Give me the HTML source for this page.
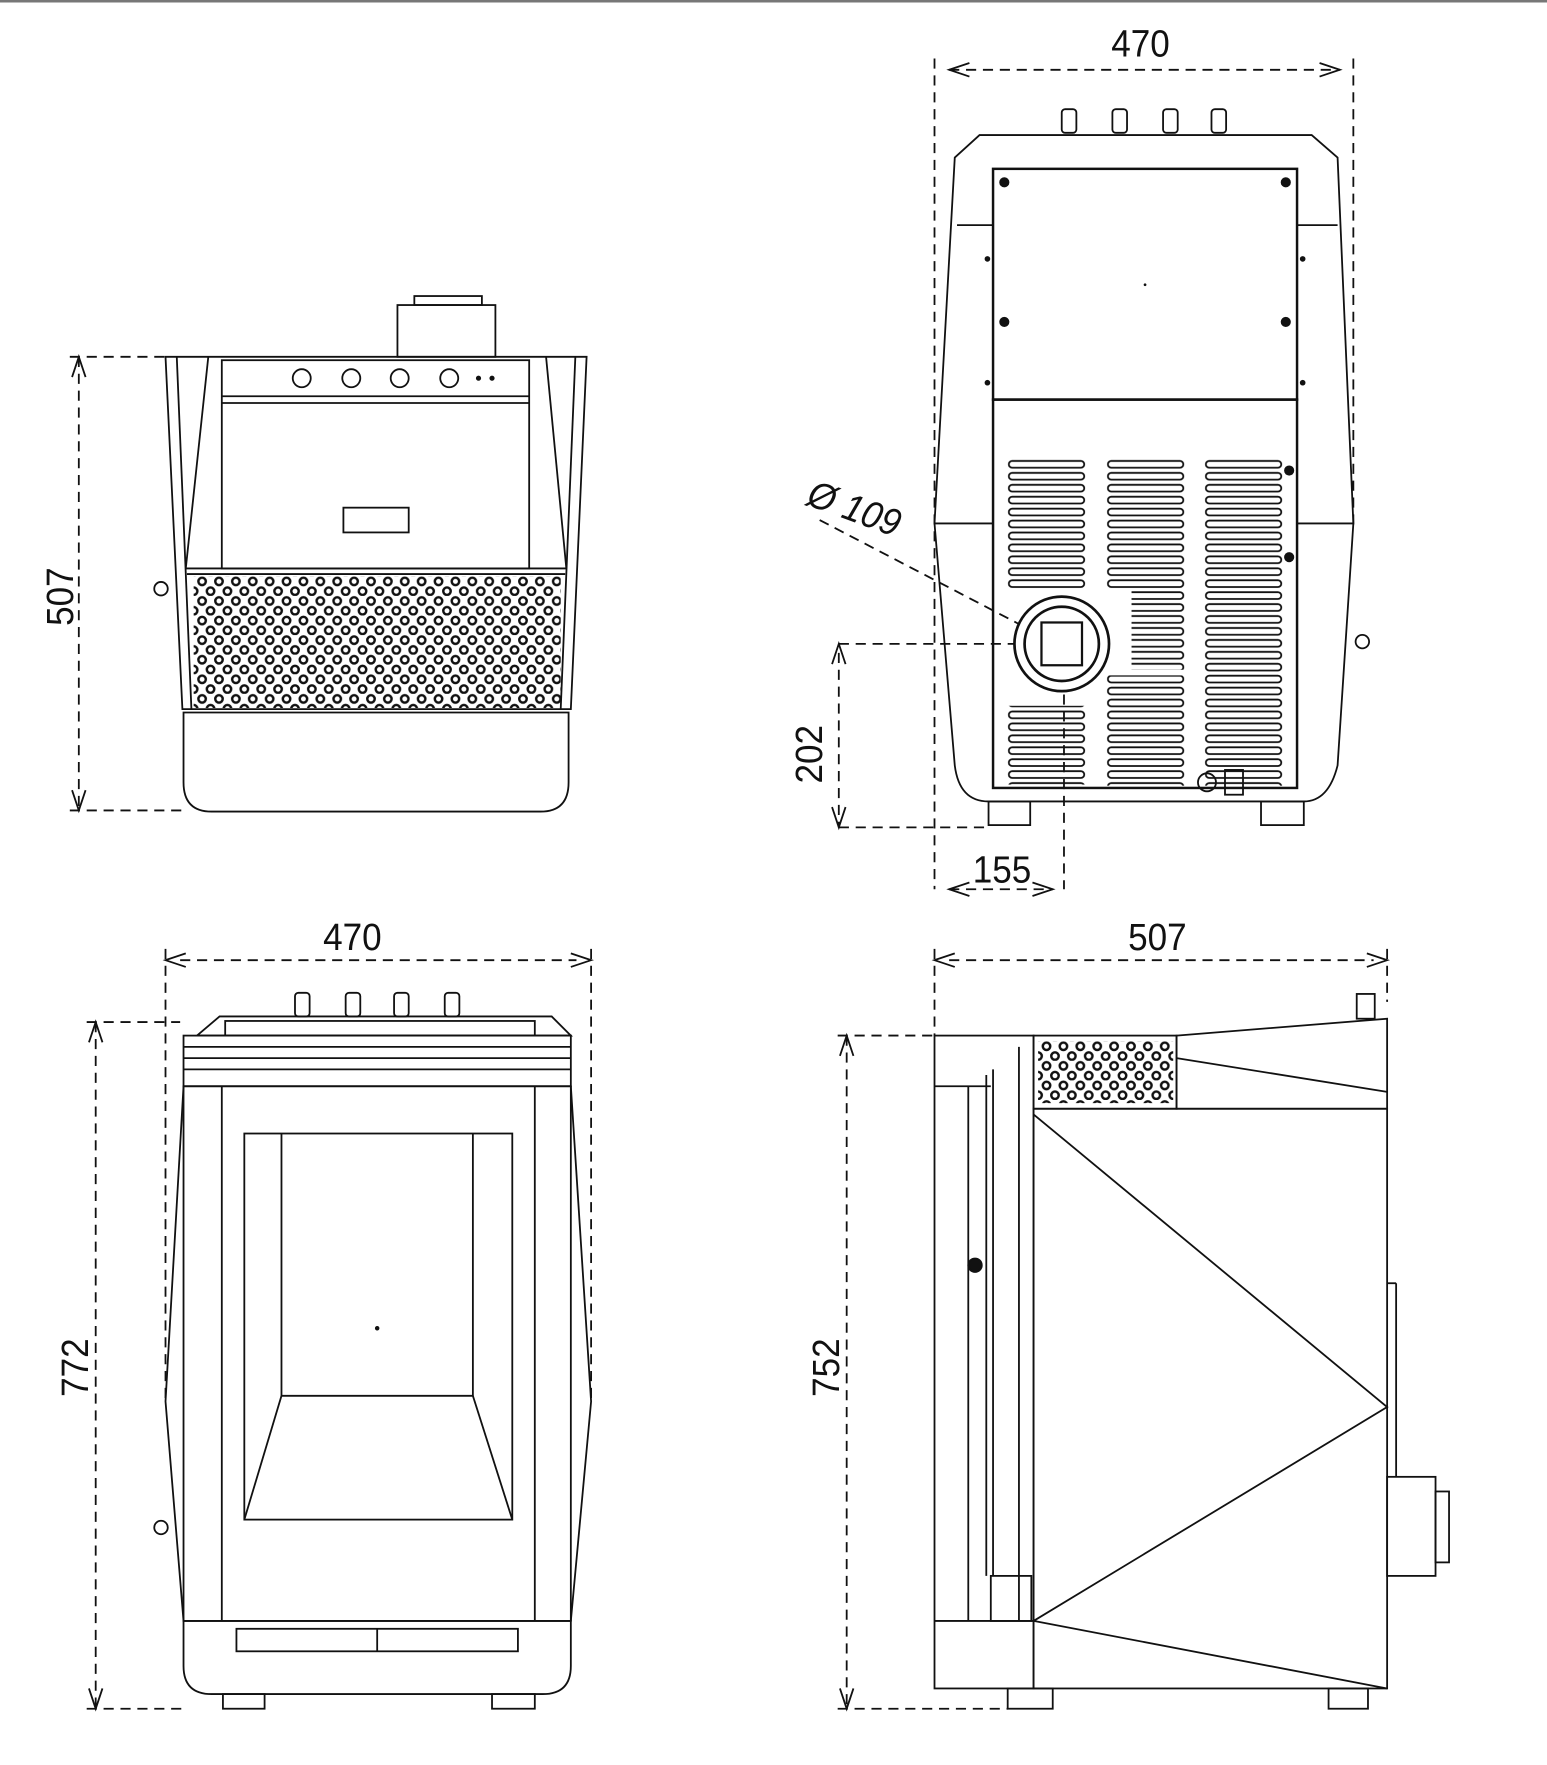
<!DOCTYPE html>
<html><head><meta charset="utf-8"><style>
html,body{margin:0;padding:0;background:#fff;}
svg{display:block}
text{font-family:"Liberation Sans",sans-serif;font-size:34px;fill:#111;}
</style></head><body>
<svg width="1547" height="1765" viewBox="0 0 1374 1568" preserveAspectRatio="none" xmlns="http://www.w3.org/2000/svg">
<defs>
<pattern id="perf" width="15" height="17.4" patternUnits="userSpaceOnUse" x="172" y="512">
<circle cx="7.5" cy="4.5" r="3.3" fill="none" stroke="#111" stroke-width="2.2"/>
<circle cx="0" cy="13.2" r="3.3" fill="none" stroke="#111" stroke-width="2.2"/>
<circle cx="15" cy="13.2" r="3.3" fill="none" stroke="#111" stroke-width="2.2"/>
</pattern>
<pattern id="perfS" width="15" height="17.4" patternUnits="userSpaceOnUse" x="922" y="925">
<circle cx="7.5" cy="4.5" r="3.3" fill="none" stroke="#111" stroke-width="2.2"/>
<circle cx="0" cy="13.2" r="3.3" fill="none" stroke="#111" stroke-width="2.2"/>
<circle cx="15" cy="13.2" r="3.3" fill="none" stroke="#111" stroke-width="2.2"/>
</pattern>
<pattern id="slotA" width="200" height="10.6" patternUnits="userSpaceOnUse" x="895" y="408">
<rect x="1" y="1.5" width="67" height="6" rx="3" fill="none" stroke="#111" stroke-width="1.6"/>
</pattern>
<pattern id="slotB" width="200" height="10.6" patternUnits="userSpaceOnUse" x="983" y="408">
<rect x="1" y="1.5" width="67" height="6" rx="3" fill="none" stroke="#111" stroke-width="1.6"/>
</pattern>
<pattern id="slotC" width="200" height="10.6" patternUnits="userSpaceOnUse" x="1070" y="408">
<rect x="1" y="1.5" width="67" height="6" rx="3" fill="none" stroke="#111" stroke-width="1.6"/>
</pattern>
</defs>
<g fill="none" stroke="#111" stroke-width="1.6">
<line x1="0" y1="1" x2="1374" y2="1" stroke="#777" stroke-width="2.5"/>

<rect x="368" y="263" width="60" height="8"/>
<rect x="353" y="271" width="87" height="46"/>
<polygon points="147,317 521,317 507,630 162,630"/>
<polyline points="157,317 170,630"/>
<polyline points="511,317 498,630"/>
<polyline points="185,317 165,505"/>
<polyline points="485,317 503,505"/>
<rect x="197" y="320" width="273" height="185"/>
<line x1="197" y1="352" x2="470" y2="352"/>
<line x1="197" y1="358" x2="470" y2="358"/>
<line x1="165" y1="505" x2="503" y2="505"/>
<line x1="166" y1="510" x2="502" y2="510"/>
<rect x="305" y="451" width="58" height="22"/>
<circle cx="268" cy="336" r="8"/><circle cx="312" cy="336" r="8"/><circle cx="355" cy="336" r="8"/><circle cx="399" cy="336" r="8"/>
<circle cx="425" cy="336" r="1.5" fill="#111"/><circle cx="437" cy="336" r="1.5" fill="#111"/>
<rect x="172" y="512" width="326" height="117" fill="url(#perf)" stroke="none"/>
<path d="M163,633 H505 V695 Q505,721 480,721 H188 Q163,721 163,695 Z"/>
<circle cx="143" cy="523" r="6"/>
<g stroke-dasharray="9,6"><line x1="70" y1="317" x2="70" y2="720"/><line x1="62" y1="317" x2="147" y2="317"/><line x1="62" y1="720" x2="162" y2="720"/></g>
<polyline points="64,335 70,317 76,335"/><polyline points="64,702 70,720 76,702"/>

<g stroke-dasharray="9,6">
<line x1="830" y1="52" x2="830" y2="790"/><line x1="1202" y1="52" x2="1202" y2="470"/>
<line x1="843" y1="62" x2="1190" y2="62"/>
<line x1="745" y1="572" x2="945" y2="572"/><line x1="745" y1="735" x2="880" y2="735"/>
<line x1="745" y1="580" x2="745" y2="735"/>
<line x1="945" y1="572" x2="945" y2="790"/>
<line x1="843" y1="790" x2="935" y2="790"/>
<line x1="728" y1="462" x2="935" y2="570"/>
</g>
<polyline points="861,56 843,62 861,68"/><polyline points="1172,56 1190,62 1172,68"/>
<polyline points="739,590 745,572 751,590"/><polyline points="739,717 745,735 751,717"/>
<polyline points="861,784 843,790 861,796"/><polyline points="917,784 935,790 917,796"/>
<rect x="943" y="97" width="13" height="21" rx="3"/><rect x="988" y="97" width="13" height="21" rx="3"/><rect x="1033" y="97" width="13" height="21" rx="3"/><rect x="1076" y="97" width="13" height="21" rx="3"/>
<path d="M870,120 H1165 L1188,140 L1202,465 L1188,680 Q1180,712 1158,712 H878 Q852,712 848,680 L830,465 L848,140 Z"/>
<line x1="830" y1="465" x2="882" y2="465"/><line x1="1152" y1="465" x2="1202" y2="465"/>
<line x1="850" y1="200" x2="882" y2="200"/><line x1="1152" y1="200" x2="1188" y2="200"/>
<rect x="882" y="150" width="270" height="205" stroke-width="2.2"/>
<rect x="882" y="355" width="270" height="345" stroke-width="2.2"/>
<g fill="#111" stroke="none">
<circle cx="892" cy="162" r="4.5"/><circle cx="1142" cy="162" r="4.5"/><circle cx="892" cy="286" r="4.5"/><circle cx="1142" cy="286" r="4.5"/>
<circle cx="1145" cy="418" r="4.5"/><circle cx="1145" cy="495" r="4.5"/>
<circle cx="877" cy="230" r="2.5"/><circle cx="1157" cy="230" r="2.5"/><circle cx="877" cy="340" r="2.5"/><circle cx="1157" cy="340" r="2.5"/>
<circle cx="1017" cy="253" r="1.2"/>
</g>
<rect x="895" y="408" width="72" height="117" fill="url(#slotA)" stroke="none"/>
<rect x="983" y="408" width="72" height="117" fill="url(#slotB)" stroke="none"/>
<rect x="1070" y="408" width="72" height="290" fill="url(#slotC)" stroke="none"/>
<rect x="1005" y="525" width="50" height="70" fill="url(#slotB)" stroke="none"/>
<rect x="983" y="600" width="72" height="98" fill="url(#slotB)" stroke="none"/>
<rect x="895" y="627" width="72" height="70" fill="url(#slotA)" stroke="none"/>
<circle cx="943" cy="572" r="42" fill="#fff" stroke-width="2.4"/>
<circle cx="943" cy="572" r="33" stroke-width="2.4"/>
<rect x="925" y="553" width="36" height="38" stroke-width="2"/>
<circle cx="1072" cy="695" r="8"/><rect x="1088" y="684" width="16" height="22"/>
<rect x="878" y="712" width="37" height="21"/><rect x="1120" y="712" width="38" height="21"/>
<circle cx="1210" cy="570" r="6"/>

<g stroke-dasharray="9,6">
<line x1="147" y1="843" x2="147" y2="1245"/><line x1="525" y1="843" x2="525" y2="1245"/>
<line x1="160" y1="853" x2="512" y2="853"/>
<line x1="85" y1="908" x2="85" y2="1518"/><line x1="77" y1="908" x2="160" y2="908"/><line x1="77" y1="1518" x2="163" y2="1518"/>
</g>
<polyline points="165,847 147,853 165,859"/><polyline points="507,847 525,853 507,859"/>
<polyline points="79,926 85,908 91,926"/><polyline points="79,1500 85,1518 91,1500"/>
<rect x="262" y="882" width="13" height="21" rx="3"/><rect x="307" y="882" width="13" height="21" rx="3"/><rect x="350" y="882" width="13" height="21" rx="3"/><rect x="395" y="882" width="13" height="21" rx="3"/>
<polygon points="175,920 195,903 490,903 507,920"/>
<rect x="200" y="907" width="275" height="13"/>
<rect x="163" y="920" width="344" height="45"/>
<line x1="163" y1="930" x2="507" y2="930"/><line x1="163" y1="940" x2="507" y2="940"/><line x1="163" y1="950" x2="507" y2="950"/>
<polyline points="163,965 147,1245 163,1440"/><polyline points="507,965 525,1245 507,1440"/>
<rect x="163" y="965" width="344" height="475"/>
<line x1="197" y1="965" x2="197" y2="1440"/><line x1="475" y1="965" x2="475" y2="1440"/>
<rect x="217" y="1007" width="238" height="343"/>
<polyline points="250,1007 250,1240 420,1240 420,1007"/>
<polyline points="250,1240 217,1350"/><polyline points="420,1240 455,1350"/>
<path d="M163,1440 H507 V1480 Q507,1505 482,1505 H188 Q163,1505 163,1480 Z"/>
<rect x="210" y="1447" width="250" height="20"/><line x1="335" y1="1447" x2="335" y2="1467"/>
<rect x="198" y="1505" width="37" height="13"/><rect x="437" y="1505" width="38" height="13"/>
<circle cx="143" cy="1357" r="6"/><circle cx="335" cy="1180" r="1.2" fill="#111"/>

<g stroke-dasharray="9,6">
<line x1="830" y1="843" x2="830" y2="920"/><line x1="1232" y1="843" x2="1232" y2="890"/>
<line x1="843" y1="853" x2="1220" y2="853"/>
<line x1="752" y1="920" x2="752" y2="1518"/><line x1="744" y1="920" x2="830" y2="920"/><line x1="744" y1="1518" x2="895" y2="1518"/>
</g>
<polyline points="848,847 830,853 848,859"/><polyline points="1214,847 1232,853 1214,859"/>
<polyline points="746,938 752,920 758,938"/><polyline points="746,1500 752,1518 758,1500"/>
<rect x="1205" y="883" width="16" height="22"/>
<rect x="830" y="920" width="88" height="580"/>
<line x1="830" y1="965" x2="880" y2="965"/><line x1="860" y1="965" x2="860" y2="1440"/>
<line x1="876" y1="955" x2="876" y2="1400"/><line x1="882" y1="950" x2="882" y2="1400"/><line x1="905" y1="930" x2="905" y2="1440"/>
<rect x="880" y="1400" width="36" height="40"/>
<line x1="830" y1="1440" x2="918" y2="1440"/>
<rect x="918" y="920" width="127" height="65"/>
<rect x="922" y="925" width="120" height="55" fill="url(#perfS)" stroke="none"/>
<polygon points="1045,920 1232,905 1232,985 1045,985"/>
<line x1="1045" y1="940" x2="1232" y2="970"/>
<rect x="918" y="985" width="314" height="515"/>
<polyline points="918,990 1232,1250 918,1440"/>
<polyline points="918,1440 1232,1500"/>
<rect x="1232" y="1312" width="43" height="88"/><rect x="1275" y="1325" width="12" height="63"/>
<line x1="1232" y1="1140" x2="1240" y2="1140"/><line x1="1240" y1="1140" x2="1240" y2="1312"/>
<rect x="895" y="1500" width="40" height="18"/><rect x="1180" y="1500" width="35" height="18"/>
<circle cx="866" cy="1124" r="6" fill="#111"/>
</g>

<g>
<text x="57" y="538" text-anchor="middle" transform="rotate(-90 57 530)" textLength="52" lengthAdjust="spacingAndGlyphs">507</text>
<text x="1013" y="50" text-anchor="middle" textLength="52" lengthAdjust="spacingAndGlyphs">470</text>
<text x="730" y="670" text-anchor="middle" transform="rotate(-90 730 670)" textLength="52" lengthAdjust="spacingAndGlyphs">202</text>
<text x="890" y="784" text-anchor="middle" textLength="52" lengthAdjust="spacingAndGlyphs">155</text>
<text x="715" y="448" transform="rotate(20 715 448)" font-style="italic" textLength="85" lengthAdjust="spacingAndGlyphs">Ø 109</text>
<text x="313" y="844" text-anchor="middle" textLength="52" lengthAdjust="spacingAndGlyphs">470</text>
<text x="78" y="1215" text-anchor="middle" transform="rotate(-90 78 1215)" textLength="52" lengthAdjust="spacingAndGlyphs">772</text>
<text x="1028" y="844" text-anchor="middle" textLength="52" lengthAdjust="spacingAndGlyphs">507</text>
<text x="745" y="1215" text-anchor="middle" transform="rotate(-90 745 1215)" textLength="52" lengthAdjust="spacingAndGlyphs">752</text>
</g>
</svg>
</body></html>
